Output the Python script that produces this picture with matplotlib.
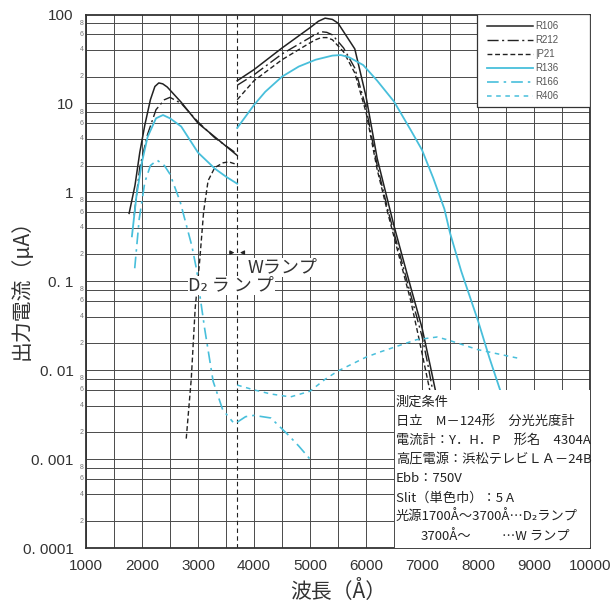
import matplotlib
matplotlib.use("Agg")
import matplotlib.pyplot as plt
import numpy as np
from matplotlib.lines import Line2D
from matplotlib.patches import Rectangle

plt.rcParams['font.family'] = ['Liberation Sans', 'Noto Sans CJK JP', 'DejaVu Sans']
JP = ['Noto Sans CJK JP', 'DejaVu Sans']

# ---------------- data (wavelength in Angstrom, current in uA) ----------------
# D2 lamp region (<=3700) and W lamp region (>=3700)
r106_d2_wl = [1770, 1875, 1960, 2050, 2150, 2230, 2300, 2370, 2450, 2700, 3000, 3300, 3700]
r106_d2_v = [0.58, 1.2, 2.8, 5.7, 11.0, 15.5, 17, 16.6, 15.3, 10.3, 6.0, 4.2, 2.6]
r106_w_wl = [3700, 4000, 4500, 5000, 5150, 5270, 5400, 5500, 5800, 6000, 6200, 6400, 6500, 6800,
             7000, 7150, 7250]
r106_w_v = [18, 24, 42, 71, 84, 91, 88, 80, 41, 12, 2.4, 0.75, 0.42, 0.085, 0.03, 0.011, 0.0055]

r212_d2_wl = [1860, 1960, 2100, 2250, 2400, 2500, 2700, 3000, 3300, 3700]
r212_d2_v = [0.55, 1.9, 4.5, 8.5, 11, 11.7, 10.0, 6.2, 4.1, 2.7]
r212_w_wl = [3700, 4000, 4500, 5000, 5100, 5200, 5300, 5400, 5600, 5800, 6000, 6200, 6400, 6800,
             7000, 7100, 7200]
r212_w_v = [16, 21, 36, 55, 60, 64, 63, 59, 42, 25, 9, 2.0, 0.6, 0.07, 0.024, 0.012, 0.0055]

ip21_d2_wl = [2790, 2880, 2950, 3030, 3100, 3180, 3300, 3450, 3550, 3700]
ip21_d2_v = [0.0017, 0.008, 0.05, 0.17, 0.6, 1.35, 1.9, 2.15, 2.2, 2.05]
ip21_w_wl = [3700, 4000, 4500, 5000, 5100, 5200, 5300, 5400, 5600, 5800, 6000, 6200, 6400, 6800,
             6950, 7050, 7150]
ip21_w_v = [11, 18, 31, 48, 52, 55, 55, 52, 38, 22, 8, 1.8, 0.55, 0.06, 0.022, 0.011, 0.0055]

r136_d2_wl = [1820, 1900, 2000, 2100, 2250, 2375, 2500, 2700, 3000, 3300, 3500, 3700]
r136_d2_v = [0.32, 0.9, 2.2, 4.2, 6.8, 7.4, 6.8, 5.5, 2.8, 1.85, 1.5, 1.25]
r136_w_wl = [3700, 4000, 4200, 4500, 4800, 5100, 5400, 5550, 5700, 5950, 6200, 6500, 6800, 7000,
             7200, 7400, 7500, 7700, 8000, 8200, 8450]
r136_w_v = [5.3, 9.6, 13.5, 20, 26, 31, 34.5, 35, 33, 27, 18, 10.5, 5.0, 3.0,
            1.45, 0.65, 0.35, 0.13, 0.036, 0.014, 0.0047]

r166_d2_wl = [1870, 1950, 2050, 2150, 2270, 2400, 2500, 2680, 2890, 2980, 3040, 3120, 3270, 3440, 3625]
r166_d2_v = [0.14, 0.5, 1.3, 2.0, 2.3, 2.0, 1.6, 0.79, 0.25, 0.13, 0.065, 0.029, 0.0075, 0.0036, 0.0026]
r166_w_wl = [3700, 3850, 4000, 4300, 4600, 4800, 5000]
r166_w_v = [0.0026, 0.003, 0.0031, 0.0029, 0.0019, 0.0014, 0.001]

r406_w_wl = [3700, 4000, 4300, 4650, 5000, 5270, 5500, 6000, 6250, 6900, 7270, 7450, 8000, 8700]
r406_w_v = [0.0068, 0.006, 0.0054, 0.005, 0.0058, 0.0079, 0.0098, 0.014, 0.016, 0.022, 0.0236, 0.022, 0.017, 0.0137]

x_ticks = [1000, 2000, 3000, 4000, 5000, 6000, 7000, 8000, 9000, 10000]
y_ticks = [1e-4, 1e-3, 1e-2, 1e-1, 1, 10, 100]
y_tick_labels = ['0. 0001', '0. 001', '0. 01', '0. 1', '1', '10', '100']
legend_keys = ['R106', 'R212', 'IP21', 'R136', 'R166', 'R406']
legend_texts = ['R106', 'R212', '|P21', 'R136', 'R166', 'R406']

BLACK = '#222222'
CYAN = '#48bfdb'
W, H = 610, 609

# ---------------- figure ----------------
fig = plt.figure(figsize=(6.10, 6.09), dpi=100)
ax = fig.add_axes([86 / W, 1 - 548 / H, 504 / W, 533.5 / H])
ax.set_yscale('log')
ax.set_xlim(1000, 10000)
ax.set_ylim(1e-4, 100)

# grid
for xv in np.arange(1000, 10001, 500):
    ax.axvline(xv, color='#4a4a4a', lw=0.7, zorder=1)
for dec in range(-4, 2):
    for m in [1, 2, 4, 6, 8]:
        ax.axhline(m * 10.0 ** dec, color='#4a4a4a', lw=0.7, zorder=1)

styles = {
    'R106': dict(color=BLACK, ls='-', lw=1.1),
    'R212': dict(color=BLACK, ls=(0, (8, 2.5, 1.5, 2.5)), lw=1.0),
    'IP21': dict(color=BLACK, ls=(0, (3.5, 2.0)), lw=1.0),
    'R136': dict(color=CYAN, ls='-', lw=1.3),
    'R166': dict(color=CYAN, ls=(0, (7, 3, 1.5, 3)), lw=1.2),
    'R406': dict(color=CYAN, ls=(0, (3, 3)), lw=1.1),
}

ax.plot(r106_d2_wl, r106_d2_v, zorder=3, **styles['R106'])
ax.plot(r106_w_wl, r106_w_v, zorder=3, **styles['R106'])
ax.plot(r212_d2_wl, r212_d2_v, zorder=3, **styles['R212'])
ax.plot(r212_w_wl, r212_w_v, zorder=3, **styles['R212'])
ax.plot(ip21_d2_wl, ip21_d2_v, zorder=3, **styles['IP21'])
ax.plot(ip21_w_wl, ip21_w_v, zorder=3, **styles['IP21'])
ax.plot(r136_d2_wl, r136_d2_v, zorder=3, **styles['R136'])
ax.plot(r136_w_wl, r136_w_v, zorder=3, **styles['R136'])
ax.plot(r166_d2_wl, r166_d2_v, zorder=3, **styles['R166'])
ax.plot(r166_w_wl, r166_w_v, zorder=3, **styles['R166'])
ax.plot(r406_w_wl, r406_w_v, zorder=3, **styles['R406'])

# lamp boundary
ax.axvline(3700, color=BLACK, ls=(0, (4, 3)), lw=0.8, zorder=2)
ax.annotate('', xy=(3700, 0.21), xytext=(3520, 0.21),
            arrowprops=dict(arrowstyle='-|>', color=BLACK, lw=0.8, mutation_scale=6), zorder=4)
ax.annotate('', xy=(3700, 0.21), xytext=(3880, 0.21),
            arrowprops=dict(arrowstyle='-|>', color=BLACK, lw=0.8, mutation_scale=6), zorder=4)
ax.text(3880, 0.142, 'Wランプ', family=JP, fontsize=13, va='center', ha='left',
        zorder=5, color='#333333', bbox=dict(facecolor='white', edgecolor='none', pad=0.5))
ax.text(2830, 0.089, 'D₂ ラ ン プ', family=JP, fontsize=13, va='center', ha='left',
        zorder=5, color='#333333', bbox=dict(facecolor='white', edgecolor='none', pad=0.5))

# ticks
ax.set_xticks(x_ticks)
ax.set_xticklabels([str(v) for v in x_ticks])
ax.set_yticks(y_ticks)
ax.set_yticklabels(y_tick_labels)
ax.minorticks_off()
ax.tick_params(axis='both', length=0, labelsize=11, colors='#333333')
ax.tick_params(axis='x', pad=8)
ax.tick_params(axis='y', pad=9)
for s in ax.spines.values():
    s.set_color('#333333')
    s.set_linewidth(1.3)

# small minor labels on y axis
for dec in range(-4, 2):
    for m in [2, 4, 6, 8]:
        ax.text(-0.005, m * 10.0 ** dec, str(m), transform=ax.get_yaxis_transform(),
                fontsize=5, color='#777777', ha='right', va='center')

ax.set_xlabel('波長（Å）', family=JP, fontsize=15, labelpad=5, color='#333333')
fig.text(22 / W, 1 - 285 / H, '出力電流（μA）', family=JP, fontsize=15, rotation=90,
         ha='center', va='center', color='#333333')

# legend (frame drawn as a patch to match the original box)
def axfx(px):
    return (px - 86) / 504

def axfy(py):
    return (548 - py) / 533.5

ax.add_patch(Rectangle((axfx(477), axfy(107)), axfx(590) - axfx(477), axfy(14) - axfy(107),
                       transform=ax.transAxes, facecolor='white', edgecolor='#333333',
                       lw=0.9, zorder=6))
handles = [Line2D([0], [0], **styles[k]) for k in legend_keys]
leg = ax.legend(handles, legend_texts, loc='upper left',
                bbox_to_anchor=(axfx(487), axfy(21)), borderaxespad=0, borderpad=0,
                frameon=False, fontsize=7, handlelength=4.7,
                labelspacing=0.42, handletextpad=0.3)
for t in leg.get_texts():
    t.set_color('#555555')
leg.set_zorder(7)

# conditions box
box_left = (6500 - 1000) / 9000
ax.add_patch(Rectangle((box_left, 0), 1 - box_left, axfy(390), transform=ax.transAxes,
                       facecolor='white', edgecolor='none', zorder=5))
ax.plot([box_left, box_left], [0, axfy(390)], transform=ax.transAxes,
        color='#4a4a4a', lw=0.7, zorder=6)
lines = ['測定条件',
         '日立　M－124形　分光光度計',
         '電流計：Y．H．P　形名　4304A',
         '高圧電源：浜松テレビＬＡ－24B',
         'Ebb：750V',
         'Slit（単色巾）：5 A',
         '光源1700Å～3700Å…D₂ランプ']
tx = axfx(396)
for i, s in enumerate(lines):
    ax.text(tx, axfy(402 + i * 19.2), s, transform=ax.transAxes, family=JP,
            fontsize=9.5, va='center', ha='left', zorder=7, color='#222222')
ax.text(axfx(421), axfy(402 + 7 * 19.2), '3700Å～', transform=ax.transAxes,
        family=JP, fontsize=9.5, va='center', ha='left', zorder=7, color='#222222')
ax.text(axfx(502), axfy(402 + 7 * 19.2), '…W ランプ', transform=ax.transAxes,
        family=JP, fontsize=9.5, va='center', ha='left', zorder=7, color='#222222')

fig.savefig('out.png', dpi=100, facecolor='white')
